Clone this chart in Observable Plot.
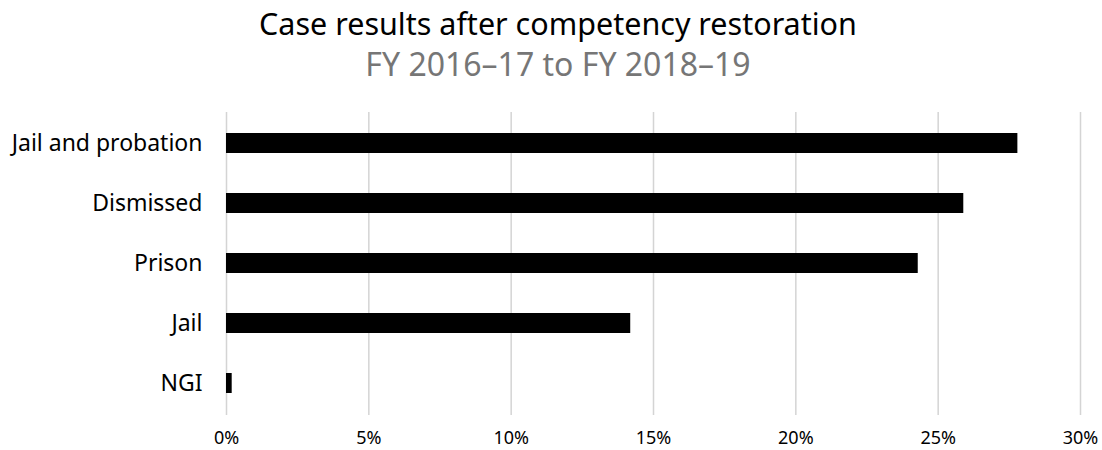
<!DOCTYPE html>
<html>
<head>
<meta charset="utf-8">
<script src="https://cdn.jsdelivr.net/npm/d3@7"></script>
<script src="https://cdn.jsdelivr.net/npm/@observablehq/plot@0.6"></script>
<style>
  html, body { margin: 0; padding: 0; background: #fff; }
  body { width: 1102px; height: 450px; overflow: hidden; font-family: "Noto Sans", sans-serif; }
  #head { height: 95px; text-align: center; padding-left: 14px; box-sizing: border-box; }
  #title { font-size: 30.5px; line-height: 40px; color: #000; padding-top: 3px; }
  #subtitle { font-size: 32px; line-height: 42px; color: #767676; }
  svg { display: block; }
</style>
</head>
<body>
<div id="head">
  <div id="title">Case results after competency restoration</div>
  <div id="subtitle">FY 2016–17 to FY 2018–19</div>
</div>
<div id="chart"></div>
<script>
const categories = ["Jail and probation", "Dismissed", "Prison", "Jail", "NGI"];
const values = [27.8, 25.9, 24.3, 14.2, 0.2];
const xTicks = [0, 5, 10, 15, 20, 25, 30];

const data = categories.map((c, i) => ({category: c, value: values[i]}));

const chart = Plot.plot({
  width: 1102,
  height: 355,
  marginTop: 17,
  marginBottom: 35,
  marginLeft: 226,
  marginRight: 22,
  style: {fontFamily: '"Noto Sans", sans-serif', background: "#fff", color: "#000"},
  x: {domain: [0, 30], ticks: xTicks, tickFormat: d => d + "%", label: null},
  y: {domain: categories, paddingInner: 0.66, paddingOuter: 0.33, label: null},
  marks: [
    Plot.gridX(xTicks, {stroke: "#d4d4d4", strokeOpacity: 1, strokeWidth: 1.5}),
    Plot.barX(data, {x: "value", y: "category", fill: "#000"}),
    Plot.axisX(xTicks, {tickSize: 0, tickPadding: 16, fontSize: 18, tickFormat: d => d + "%", label: null}),
    Plot.axisY({tickSize: 0, tickPadding: 24, fontSize: 23, label: null})
  ]
});
document.getElementById("chart").appendChild(chart);
</script>
</body>
</html>
